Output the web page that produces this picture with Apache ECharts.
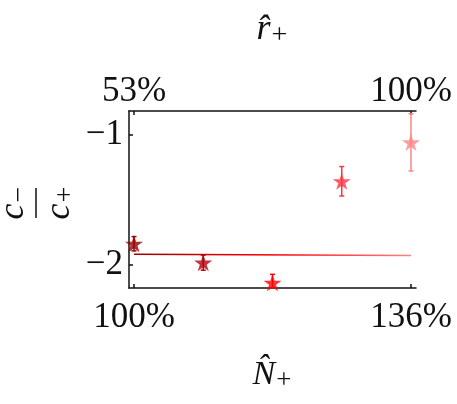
<!DOCTYPE html>
<html>
<head>
<meta charset="utf-8">
<script src="https://cdn.jsdelivr.net/npm/echarts@6.0.0/dist/echarts.min.js"></script>
<style>
  html, body { margin: 0; padding: 0; background: #fff; }
  #chart { width: 457px; height: 404px; }
</style>
</head>
<body>
<div id="chart"></div>
<script>
const serif = "'Liberation Serif', serif";

// data
const nPlus = [100, 109, 118, 127, 136];            // N̂+ in %
const ratio = [-1.84, -1.985, -2.14, -1.36, -1.061]; // c-/c+
const ratioErr = [0.055, 0.058, 0.065, 0.113, 0.22];
const pointColors = ['#990000', '#b3000c', '#ff0000', '#ff3344', '#ff8484'];
const fitLine = [[100, -1.921], [136, -1.931]];

const bottomTicks = [100, 136];
const bottomLabels = ['100%', '136%'];
const topLabels = ['53%', '100%'];
const yTicks = [-1, -2];
const yLabels = ['\u22121', '\u22122'];

const STAR = 'path://M50 0 L61.17 34.63 L97.55 34.55 L68.07 55.87 L79.39 90.45 L50 69 L20.61 90.45 L31.93 55.87 L2.45 34.55 L38.83 34.63 Z';

const points = nPlus.map((x, i) => ({ value: [x, ratio[i], ratioErr[i]], itemStyle: { color: pointColors[i] } }));

const axisLine = { show: true, lineStyle: { color: '#111', width: 1.5 } };
const tickStyle = (vals) => ({ show: true, inside: true, length: 4, customValues: vals, lineStyle: { color: '#111', width: 1.5 } });
const labelStyle = { color: '#111', fontSize: 35, fontFamily: serif };

function mathText(main, sub, size) {
  return {
    text: `{v|${main}}{s|${sub}}`, textAlign: 'center', textVerticalAlign: 'middle',
    rich: {
      v: { fontSize: size, fontStyle: 'italic', fontFamily: serif, fill: '#111' },
      s: { fontSize: Math.round(size * 0.78), fontFamily: serif, fill: '#111', padding: [12, 0, 0, 1] },
    },
  };
}

const chart = echarts.init(document.getElementById('chart'));

chart.setOption({
  animation: false,
  textStyle: { fontFamily: serif },
  grid: { left: 129, right: 41, top: 111, bottom: 116, outerBoundsMode: 'none' },
  xAxis: [
    {
      type: 'value', position: 'bottom', min: 99.35, max: 136.65,
      axisLine, axisTick: tickStyle(bottomTicks), splitLine: { show: false },
      axisLabel: {
        ...labelStyle, customValues: bottomTicks, margin: 12,
        formatter: (v) => bottomLabels[bottomTicks.indexOf(v)] || '',
      },
    },
    {
      type: 'value', position: 'top', min: 99.35, max: 136.65,
      axisLine, axisTick: tickStyle(bottomTicks), splitLine: { show: false },
      axisLabel: {
        ...labelStyle, customValues: bottomTicks, margin: 2,
        formatter: (v) => topLabels[bottomTicks.indexOf(v)] || '',
      },
    },
  ],
  yAxis: {
    type: 'value', min: -2.18, max: -0.82,
    axisLine, axisTick: tickStyle(yTicks), splitLine: { show: false },
    axisLabel: {
      ...labelStyle, customValues: yTicks, margin: 6,
      formatter: (v) => yLabels[yTicks.indexOf(v)] || '',
    },
  },
  series: [
    {
      type: 'line', data: fitLine, symbol: 'none', z: 1,
      lineStyle: {
        width: 1.5,
        color: new echarts.graphic.LinearGradient(0, 0, 1, 0, [
          { offset: 0, color: pointColors[0] },
          { offset: 0.5, color: pointColors[2] },
          { offset: 1, color: pointColors[4] },
        ]),
      },
    },
    {
      type: 'custom', data: points, z: 2, clip: true,
      renderItem: (params, api) => {
        const x = api.value(0), y = api.value(1), e = api.value(2);
        const top = api.coord([x, y + e]);
        const bot = api.coord([x, y - e]);
        const color = pointColors[params.dataIndex];
        const cap = 2.5;
        const style = { stroke: color, lineWidth: 1.5 };
        return {
          type: 'group',
          children: [
            { type: 'line', shape: { x1: top[0], y1: top[1], x2: bot[0], y2: bot[1] }, style },
            { type: 'line', shape: { x1: top[0] - cap, y1: top[1], x2: top[0] + cap, y2: top[1] }, style },
            { type: 'line', shape: { x1: bot[0] - cap, y1: bot[1], x2: bot[0] + cap, y2: bot[1] }, style },
          ],
        };
      },
    },
    {
      type: 'scatter', data: points, symbol: STAR, symbolSize: 18, symbolKeepAspect: true, z: 3, clip: true,
    },
  ],
  graphic: [
    { type: 'text', x: 272, y: 30, style: mathText('r\u0302', '+', 36) },
    { type: 'text', x: 272, y: 375, style: mathText('N\u0302', '+', 34) },
    {
      type: 'group', x: 36, y: 203, rotation: Math.PI / 2,
      children: [
        { type: 'text', x: 0, y: -22, style: mathText('c', '\u2212', 36) },
        { type: 'line', shape: { x1: -15, y1: 0, x2: 15, y2: 0 }, style: { stroke: '#111', lineWidth: 1.5 } },
        { type: 'text', x: 0, y: 24, style: mathText('c', '+', 36) },
      ],
    },
  ],
});
</script>
</body>
</html>
